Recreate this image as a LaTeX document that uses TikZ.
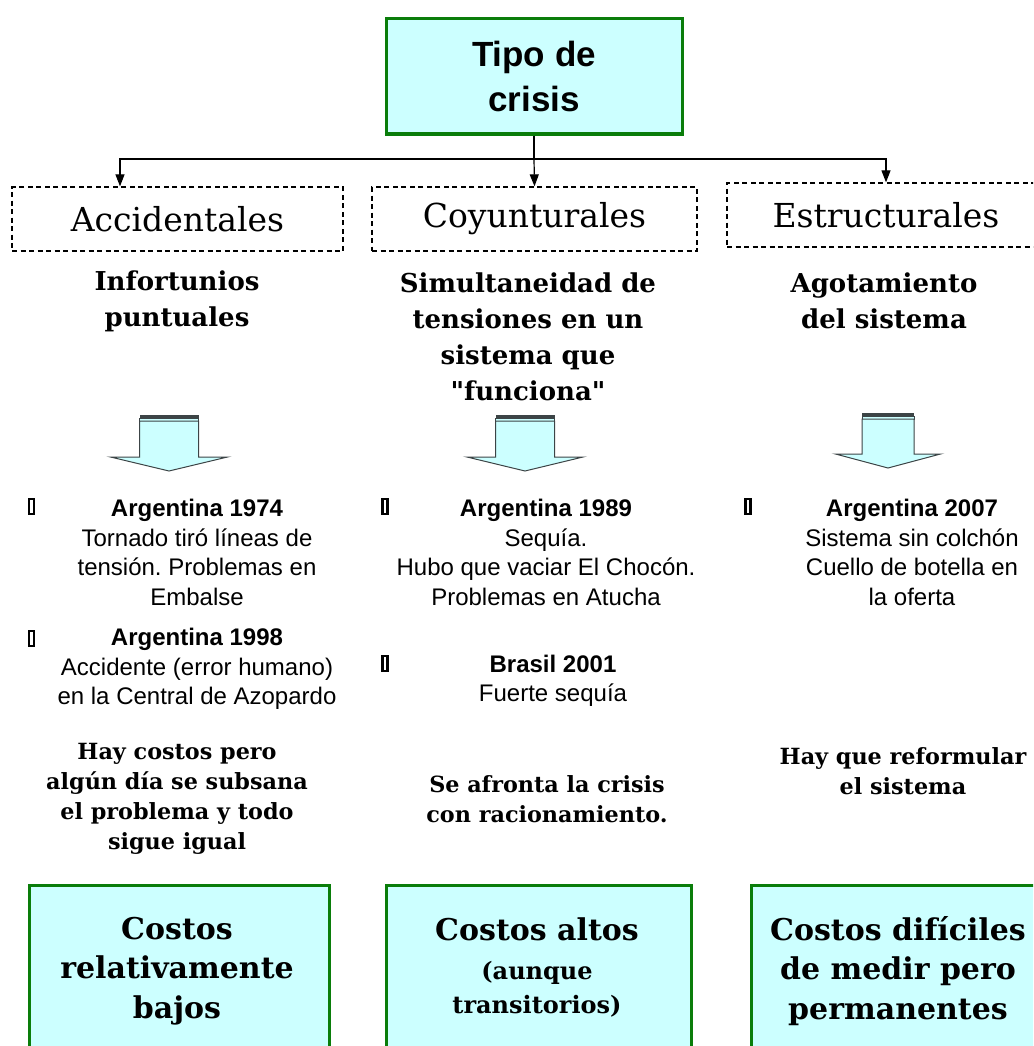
\documentclass[tikz,border=0pt]{standalone}
\usepackage{fontspec}
\setmainfont{DejaVu Serif}[Ligatures=TeXOff]
\setsansfont{Liberation Sans}
\usepackage{xcolor}
\usetikzlibrary{arrows.meta}
\definecolor{paleCyan}{HTML}{CCFFFF}
\definecolor{boxGreen}{HTML}{0A7D0A}
\definecolor{arrowGray}{HTML}{3C4446}
\frenchspacing

\begin{document}
\begin{tikzpicture}
            [x=1pt, y=-1pt,
            rootbox/.style = {draw=boxGreen, line width=3pt, fill=paleCyan,
                        minimum width=296, minimum height=115, align=center,
                        font=\sffamily\bfseries\fontsize{35}{45}\selectfont},
            kind/.style = {draw, dash pattern=on 5pt off 3.5pt, line width=1.3pt,
                        minimum height=64, inner sep=0pt,
                        font=\fontsize{33}{38}\selectfont},
            sub/.style = {align=center, inner sep=0pt,
                        font=\bfseries\fontsize{26}{36}\selectfont},
            item/.style = {align=center, inner sep=0pt,
                        font=\sffamily\fontsize{24}{29.5}\selectfont},
            note/.style = {align=center, inner sep=0pt,
                        font=\bfseries\fontsize{22.3}{30}\selectfont},
            cost/.style = {align=center, inner sep=0pt,
                        font=\bfseries\fontsize{30}{39.5}\selectfont},
            costbox/.style = {draw=boxGreen, line width=3pt, fill=paleCyan,
                        anchor=north west, minimum height=200},
            tofu/.style = {draw, line width=2.2pt, minimum width=5, minimum height=15,
                        inner sep=0pt},
            link/.style = {line width=1.2pt, -{Triangle[length=12pt,width=9pt]}}]
            \useasboundingbox (0,0) rectangle (1033,1046);
            \clip (0,0) rectangle (1033,1046);

            % Tipo de crisis
            \node[rootbox] (root) at (534,76.5) {Tipo de\\crisis};
            \node[kind, minimum width=331] (acc) at (177.5,219) {Accidentales};
            \node[kind, minimum width=325] (coy) at (534.5,219) {Coyunturales};
            \node[kind, minimum width=318] (est) at (886,215) {Estructurales};
            \coordinate (split) at (534,159);
            \draw[line width=1.2pt] (root.south) -- (split);
            \draw[link] (split) -| ([xshift=-57.5]acc.north);
            \draw[link] (split) -- (coy.north);
            \draw[link] (split) -| (est.north);

            % Descripciones
            \node[sub] (accsub) at (177,301) {Infortunios\\puntuales};
            \node[sub] (coysub) at (528,337) {Simultaneidad de\\tensiones en un\\sistema que\\ "funciona"};
            \node[sub] (estsub) at (884,301) {Agotamiento\\del sistema};

            % Flechas
            \foreach \cx/\yt/\sw/\hw/\wy/\ty in {169/415/59/117/457/471,
                                                525/415/59/116/457/471,
                                                888/413/52/105/454/468}{
                \fill[arrowGray] (\cx-\sw/2,\yt) rectangle (\cx+\sw/2,\yt+3);
                \draw[arrowGray, fill=paleCyan, line width=1pt]
                    (\cx-\sw/2,\yt+3) rectangle (\cx+\sw/2,\yt+6);
                \draw[arrowGray, fill=paleCyan, line width=1pt]
                    (\cx-\sw/2,\yt+6) -- (\cx-\sw/2,\wy) -- (\cx-\hw/2,\wy) -- (\cx,\ty)
                    -- (\cx+\hw/2,\wy) -- (\cx+\sw/2,\wy) -- (\cx+\sw/2,\yt+6) -- cycle;
            }

            % Ejemplos
            \node[tofu] (b1) at (31.5,506.5) {};
            \node[tofu] (b2) at (31.5,638.5) {};
            \node[tofu] (b3) at (385,506.5) {};
            \node[tofu] (b4) at (385,663.5) {};
            \node[tofu] (b5) at (748,506.5) {};
            \node[item] (arg74) at (197,552.5) {\textbf{Argentina 1974}\\Tornado tiró líneas de\\tensión. Problemas en\\Embalse};
            \node[item] (arg98) at (197,669) {\textbf{Argentina 1998}\\Accidente (error humano)\\en la Central de Azopardo};
            \node[item] (arg89) at (546,552.5) {\textbf{Argentina 1989}\\Sequía.\\Hubo que vaciar El Chocón.\\Problemas en Atucha};
            \node[item] (bra01) at (553,681) {\textbf{Brasil 2001}\\Fuerte sequía};
            \node[item] (arg07) at (912,552.5) {\textbf{Argentina 2007}\\Sistema sin colchón\\Cuello de botella en\\la oferta};

            % Consecuencias
            \node[note] (accnote) at (177,799) {Hay costos pero\\algún día se subsana\\el problema y todo\\sigue igual};
            \node[note] (coynote) at (547,799) {Se afronta la crisis\\con racionamiento.};
            \node[note] (estnote) at (903,771) {Hay que reformular\\el sistema};

            % Costos
            \node[costbox, minimum width=300] (accbox) at (28,884) {};
            \node[costbox, minimum width=305] (coybox) at (385,884) {};
            \node[costbox, minimum width=300] (estbox) at (750,884) {};
            \node[cost] (acccost) at (177,971) {Costos\\relativamente\\bajos};
            \node[cost] (coycost) at (537,967) {Costos altos\\{\fontsize{24}{34}\selectfont (aunque}\\[-6pt]{\fontsize{24}{34}\selectfont transitorios)}};
            \node[cost] (estcost) at (898,971) {Costos difíciles\\de medir pero\\permanentes};
        \end{tikzpicture}
\end{document}
